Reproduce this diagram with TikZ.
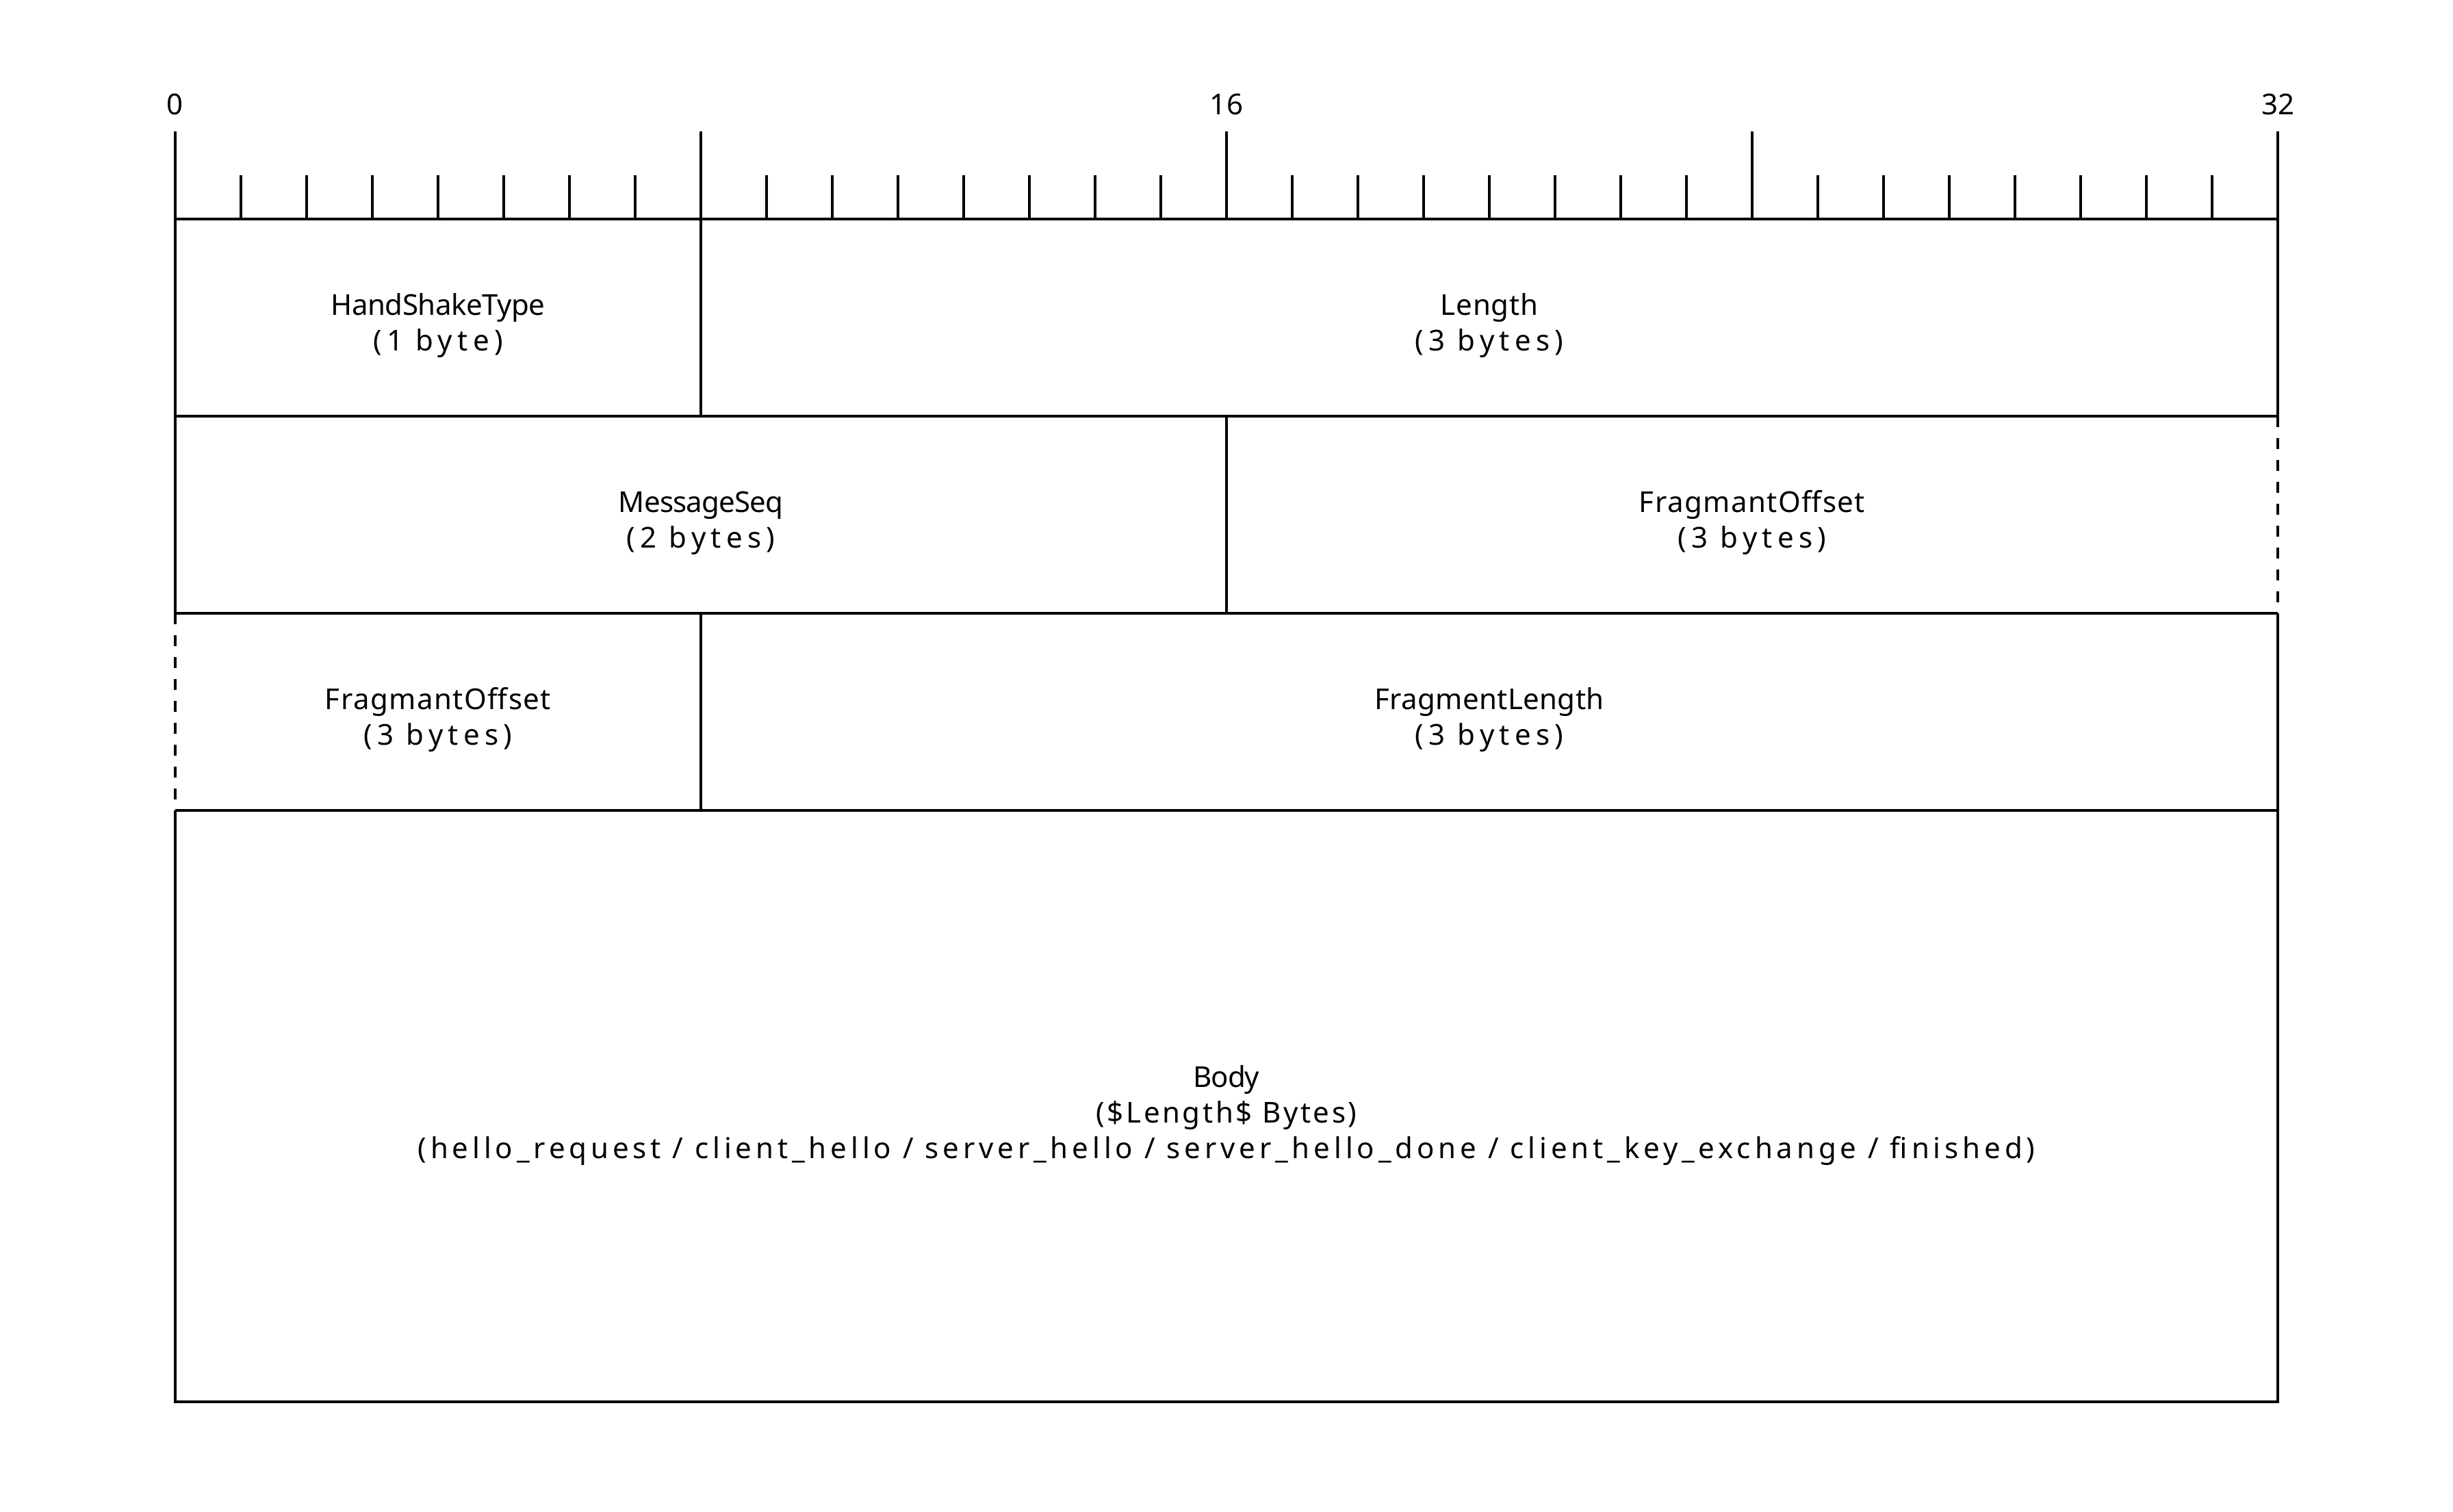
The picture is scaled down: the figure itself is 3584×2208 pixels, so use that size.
\documentclass[tikz,border=0pt]{standalone}
\usepackage{fontspec}
\setmainfont{Noto Sans}
\begin{document}
\begin{tikzpicture}[x=0.01cm,y=-0.01cm,
  rule/.style={line width=1pt},
  gapline/.style={rule, dash pattern=on 0.16cm off 0.16cm},
  txt/.style={anchor=base, inner sep=0pt,
    font=\fontsize{11.95pt}{14pt}\selectfont\addfontfeature{LetterSpace=#1}},
  txt/.default=0,
  fsize/.style={txt=17.4},
  bitlbl/.style={txt}]
\useasboundingbox (0,0) rectangle (3584,2208);

% bit ruler: one tick per bit, long ticks every byte
\foreach \b in {0,8,16,24,32}
  \draw[rule] ({256+96*\b},192) -- ({256+96*\b},320);
\foreach \b in {1,...,7,9,10,...,15,17,18,...,23,25,26,...,31}
  \draw[rule] ({256+96*\b},256) -- ({256+96*\b},320);
\node[bitlbl] (b0)  at (256,167)  {0};
\node[bitlbl] (b16) at (1792,167) {16};
\node[bitlbl] (b32) at (3328,167) {32};

% row 1
\draw[rule] (256,320) -- (3328,320);
\draw[rule] (256,320) -- (256,608);
\draw[rule] (1024,320) -- (1024,608);
\draw[rule] (3328,320) -- (3328,608);
\draw[rule] (256,608) -- (3328,608);
\node[txt=-1.2] (hst)  at (640,460)  {HandShakeType};
\node[fsize]    (hsts) at (640,512)  {(1 byte)};
\node[txt=1.8]  (len)  at (2176,460) {Length};
\node[fsize]    (lens) at (2176,512) {(3 bytes)};

% row 2
\draw[rule] (256,608) -- (256,896);
\draw[rule] (1792,608) -- (1792,896);
\draw[gapline] (3328,608) -- (3328,896);
\draw[rule] (256,896) -- (3328,896);
\node[txt=-2]  (seq)   at (1024,748) {MessageSeq};
\node[fsize]   (seqs)  at (1024,800) {(2 bytes)};
\node[txt=3.5] (offa)  at (2560,748) {FragmantOffset};
\node[fsize]   (offas) at (2560,800) {(3 bytes)};

% row 3
\draw[gapline] (256,896) -- (256,1184);
\draw[rule] (1024,896) -- (1024,1184);
\draw[rule] (3328,896) -- (3328,1184);
\draw[rule] (256,1184) -- (3328,1184);
\node[txt=3.5] (offb)  at (640,1036)  {FragmantOffset};
\node[fsize]   (offbs) at (640,1088)  {(3 bytes)};
\node[txt=0.8] (flen)  at (2176,1036) {FragmentLength};
\node[fsize]   (flens) at (2176,1088) {(3 bytes)};

% body
\draw[rule] (256,1184) -- (256,2048) -- (3328,2048) -- (3328,1184);
\node[txt=-2.7] (body)  at (1792,1588) {Body};
\node[txt=8.5]  (bodyl) at (1792,1640) {(\$Length\$ Bytes)};
\node[txt=14]   (bodyk) at (1792,1692) {(hello\_request / client\_hello / server\_hello / server\_hello\_done / client\_key\_exchange / finished)};
\end{tikzpicture}
\end{document}
